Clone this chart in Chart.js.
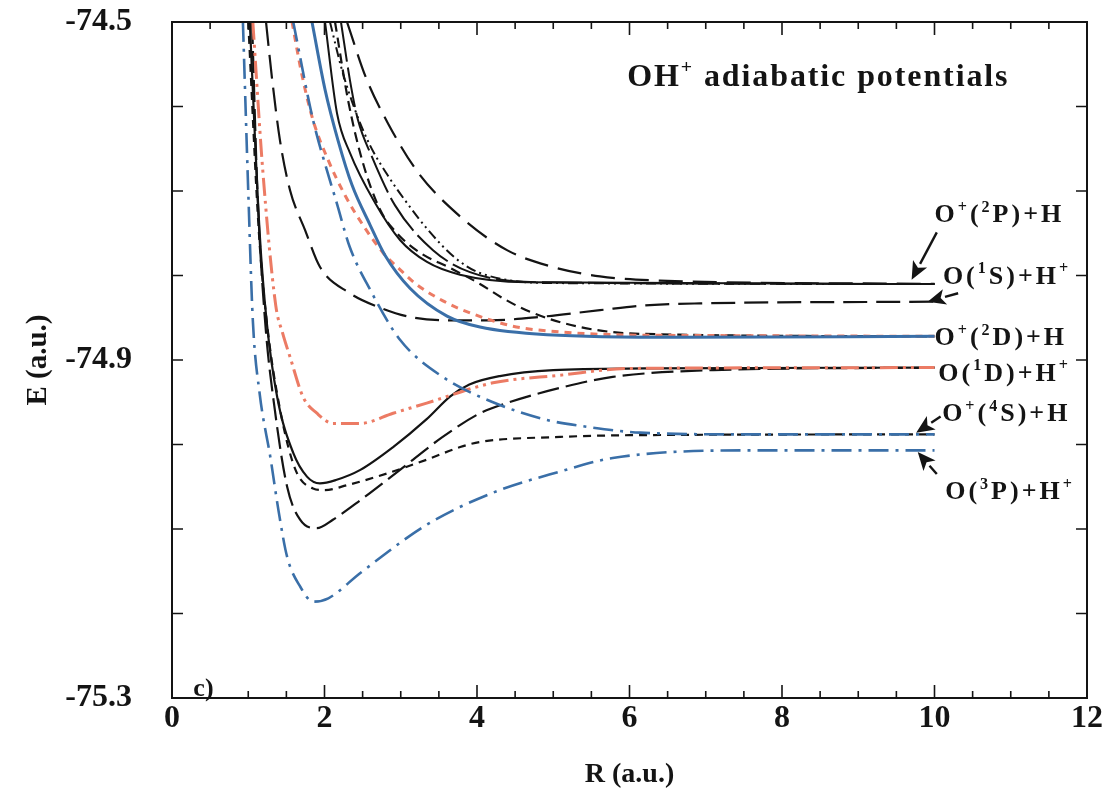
<!DOCTYPE html>
<html>
<head>
<meta charset="utf-8">
<script src="https://cdn.jsdelivr.net/npm/chart.js@4.4.0/dist/chart.umd.min.js"></script>
<style>
  html, body { margin: 0; padding: 0; background: #fff; }
  #wrap { width: 1112px; height: 810px; }
</style>
</head>
<body>
<div id="wrap"><canvas id="pot" width="1112" height="810"></canvas></div>
<script>
// axes
const xTicks = [0, 2, 4, 6, 8, 10, 12];
const yTicks = [-75.3, -74.9, -74.5];

// curves: R (a.u.) and E (a.u.)
// blue dash-dot, deepest well -> O(3P)+H+
const rA = [0.93, 1.0, 1.06, 1.15, 1.29, 1.40, 1.51, 1.68, 1.85, 2.05, 2.47, 3.34, 4.21, 5.09, 5.78, 7.54, 10];
const eA = [-74.50, -74.70, -74.853, -74.94, -75.015, -75.08, -75.133, -75.168, -75.186, -75.182, -75.152, -75.095, -75.057, -75.032, -75.016, -75.007, -75.007];
// black long dash, lower well -> O(1D)+H+
const rB = [1.05, 1.12, 1.22, 1.35, 1.51, 1.68, 1.9, 2.11, 2.47, 2.99, 3.55, 4.04, 4.39, 5.09, 5.78, 7.1, 10];
const eB = [-74.50, -74.70, -74.853, -74.96, -75.050, -75.089, -75.099, -75.089, -75.066, -75.030, -74.991, -74.963, -74.951, -74.933, -74.920, -74.912, -74.909];
// black solid, upper well -> O(1D)+H+
const rC = [1.02, 1.15, 1.24, 1.38, 1.59, 1.77, 1.94, 2.15, 2.47, 2.9, 3.34, 3.65, 3.9, 4.3, 5.0, 6.2, 10];
const eC = [-74.50, -74.75, -74.853, -74.944, -75.010, -75.038, -75.046, -75.042, -75.030, -75.003, -74.970, -74.943, -74.929, -74.919, -74.912, -74.910, -74.909];
// black short dash -> O+(4S)+H
const rD = [1.0, 1.14, 1.25, 1.42, 1.62, 1.85, 2.0, 2.3, 2.69, 3.34, 3.78, 4.04, 5.09, 6.0, 10];
const eD = [-74.50, -74.75, -74.86, -74.96, -75.030, -75.052, -75.054, -75.048, -75.038, -75.018, -75.003, -74.997, -74.991, -74.989, -74.988];
// red dash-dot-dot -> O(1D)+H+
const rE = [1.06, 1.19, 1.36, 1.45, 1.55, 1.72, 1.9, 2.11, 2.47, 2.9, 3.34, 4.21, 5.09, 6.0, 10];
const eE = [-74.50, -74.675, -74.835, -74.868, -74.897, -74.944, -74.963, -74.975, -74.975, -74.963, -74.951, -74.927, -74.918, -74.910, -74.909];
// blue dash-dot, repulsive -> O+(4S)+H
const rF = [1.59, 1.85, 2.07, 2.16, 2.33, 2.6, 2.99, 3.55, 4.21, 4.92, 5.44, 6.14, 7.5, 10];
const eF = [-74.50, -74.616, -74.687, -74.714, -74.766, -74.817, -74.876, -74.920, -74.950, -74.971, -74.979, -74.986, -74.988, -74.988];
// blue solid -> O+(2D)+H
const rG = [1.836, 2.007, 2.177, 2.361, 2.597, 2.793, 3.121, 3.607, 4.039, 4.918, 6.662, 10];
const eG = [-74.50, -74.580, -74.640, -74.693, -74.740, -74.776, -74.815, -74.848, -74.861, -74.870, -74.873, -74.872];
// red short dash -> O+(2D)+H
const rH = [1.574, 1.705, 1.849, 2.046, 2.269, 2.531, 2.767, 2.990, 3.213, 3.554, 3.816, 4.472, 5.128, 5.784, 6.925, 10];
const eH = [-74.50, -74.563, -74.616, -74.663, -74.705, -74.744, -74.773, -74.793, -74.811, -74.830, -74.841, -74.860, -74.867, -74.870, -74.871, -74.872];
// black long dash, shallow dip -> O(1S)+H+
const rK = [1.233, 1.311, 1.416, 1.548, 1.744, 1.941, 2.334, 2.728, 3.121, 3.646, 4.170, 4.826, 5.613, 6.269, 6.925, 10];
const eK = [-74.50, -74.566, -74.640, -74.699, -74.746, -74.790, -74.821, -74.838, -74.849, -74.853, -74.853, -74.849, -74.841, -74.835, -74.833, -74.831];
// black long dash from above -> O+(2P)+H
const rL = [2.295, 2.544, 2.833, 3.226, 3.777, 4.393, 4.957, 5.613, 6.400, 10];
const eL = [-74.50, -74.566, -74.620, -74.678, -74.730, -74.770, -74.789, -74.801, -74.806, -74.810];
// black dashed from above -> O+(2D)+H
const rN = [2.138, 2.308, 2.492, 2.728, 2.951, 3.252, 3.646, 4.039, 4.341, 4.695, 5.351, 6.138, 10];
const eN = [-74.50, -74.592, -74.663, -74.722, -74.750, -74.773, -74.791, -74.810, -74.827, -74.843, -74.861, -74.869, -74.872];
// black solid pair -> O+(2P)+H
const rP1 = [2.007, 2.164, 2.334, 2.662, 2.990, 3.344, 3.777, 4.656, 10];
const eP1 = [-74.50, -74.608, -74.655, -74.714, -74.758, -74.784, -74.799, -74.808, -74.810];
const rP2 = [2.216, 2.334, 2.439, 2.610, 2.925, 3.423, 3.908, 4.826, 10];
const eP2 = [-74.50, -74.569, -74.616, -74.657, -74.717, -74.770, -74.796, -74.808, -74.810];
// black dash-dot-dot -> O+(2P)+H
const rQ = [2.072, 2.230, 2.400, 2.597, 2.833, 3.056, 3.357, 3.711, 4.039, 5.089, 10];
const eQ = [-74.50, -74.557, -74.604, -74.646, -74.682, -74.711, -74.746, -74.779, -74.797, -74.809, -74.810];

// asymptote labels and arrows
const asymLabels = ['O^+(^2P)+H', 'O(^1S)+H^+', 'O^+(^2D)+H', 'O(^1D)+H^+', 'O^+(^4S)+H', 'O(^3P)+H^+'];
const labelR = [10.0, 10.11, 10.0, 10.05, 10.10, 10.14];
const labelE = [-74.726, -74.799, -74.872, -74.914, -74.962, -75.054];
const arrowFromR = [10.03, 10.31, 10.08, 10.03];
const arrowFromE = [-74.749, -74.821, -74.967, -75.035];
const arrowToR = [9.70, 9.91, 9.76, 9.78];
const arrowToE = [-74.805, -74.831, -74.986, -75.009];

const BLUE = '#3a6fa8', RED = '#ec7b64', INK = '#141414';
const SERIF = "'Liberation Serif', 'Times New Roman', serif";

function curve(r, e, color, width, dash) {
  return {
    data: r.map((v, i) => ({ x: v, y: e[i] })),
    borderColor: color,
    borderWidth: width,
    borderDash: dash,
    fill: false,
    pointRadius: 0
  };
}

// colored first so they sit on top
const datasets = [
  curve(rG, eG, BLUE, 3, []),
  curve(rA, eA, BLUE, 2.6, [20, 7, 3, 7]),
  curve(rF, eF, BLUE, 2.6, [20, 7, 3, 7]),
  curve(rH, eH, RED, 3, [7, 6]),
  curve(rE, eE, RED, 3, [18, 5, 3, 5, 3, 5]),
  curve(rC, eC, INK, 2.2, []),
  curve(rB, eB, INK, 2.2, [22, 7]),
  curve(rD, eD, INK, 2.2, [8, 6]),
  curve(rK, eK, INK, 2.2, [24, 9]),
  curve(rL, eL, INK, 2.2, [24, 10]),
  curve(rN, eN, INK, 2.2, [10, 6]),
  curve(rP1, eP1, INK, 2, []),
  curve(rP2, eP2, INK, 2, [40, 6]),
  curve(rQ, eQ, INK, 2, [10, 4, 2, 4, 2, 4])
];

// text with ^ marking a superscript character
function drawRich(ctx, s, x, y, size, spacing) {
  let cx = x;
  for (let i = 0; i < s.length; i++) {
    let ch = s[i], sup = false;
    if (ch === '^') { sup = true; ch = s[++i]; }
    const sz = sup ? size * 0.62 : size;
    ctx.font = `bold ${sz}px ${SERIF}`;
    ctx.fillText(ch, cx, sup ? y - size * 0.4 : y);
    cx += ctx.measureText(ch).width + spacing;
  }
}

const frame = {
  id: 'frame',
  afterDraw(chart) {
    const { ctx, chartArea: a, scales: { x, y } } = chart;
    ctx.save();
    ctx.strokeStyle = INK;
    ctx.lineWidth = 2;
    ctx.strokeRect(a.left, a.top, a.right - a.left, a.bottom - a.top);

    // inward ticks on all four sides
    ctx.lineWidth = 1.6;
    ctx.beginPath();
    for (let k = 0; k <= 24; k++) {
      const px = x.getPixelForValue(k * 0.5);
      const len = k % 4 === 0 ? 13 : 7;
      ctx.moveTo(px, a.bottom); ctx.lineTo(px, a.bottom - len);
      ctx.moveTo(px, a.top); ctx.lineTo(px, a.top + len);
    }
    for (let k = 0; k <= 8; k++) {
      const py = y.getPixelForValue(-75.3 + k * 0.1);
      ctx.moveTo(a.left, py); ctx.lineTo(a.left + 11, py);
      ctx.moveTo(a.right, py); ctx.lineTo(a.right - 11, py);
    }
    ctx.stroke();

    ctx.fillStyle = INK;
    ctx.textBaseline = 'alphabetic';
    ctx.textAlign = 'left';

    // title and panel tag
    drawRich(ctx, 'OH^+ adiabatic potentials', x.getPixelForValue(5.97), y.getPixelForValue(-74.563) + 11, 32, 1.9);
    drawRich(ctx, 'c)', x.getPixelForValue(0.28), y.getPixelForValue(-75.288) + 8, 26, 0);

    // asymptote labels
    asymLabels.forEach((t, i) => {
      drawRich(ctx, t, x.getPixelForValue(labelR[i]), y.getPixelForValue(labelE[i]) + 9, 26, 3);
    });

    // arrows
    ctx.lineWidth = 2.4;
    arrowFromR.forEach((r0, i) => {
      const x0 = x.getPixelForValue(r0), y0 = y.getPixelForValue(arrowFromE[i]);
      const x1 = x.getPixelForValue(arrowToR[i]), y1 = y.getPixelForValue(arrowToE[i]);
      const ang = Math.atan2(y1 - y0, x1 - x0);
      const hl = 18, hw = 8;
      const bx = x1 - hl * Math.cos(ang), by = y1 - hl * Math.sin(ang);
      ctx.beginPath();
      ctx.moveTo(x0, y0); ctx.lineTo(bx, by);
      ctx.stroke();
      ctx.beginPath();
      ctx.moveTo(x1, y1);
      ctx.lineTo(bx + hw * Math.sin(ang), by - hw * Math.cos(ang));
      ctx.lineTo(x1 - hl * 0.75 * Math.cos(ang), y1 - hl * 0.75 * Math.sin(ang));
      ctx.lineTo(bx - hw * Math.sin(ang), by + hw * Math.cos(ang));
      ctx.closePath();
      ctx.fill();
    });
    ctx.restore();
  }
};

new Chart(document.getElementById('pot'), {
  type: 'line',
  data: { datasets },
  options: {
    responsive: false,
    animation: false,
    layout: { padding: { top: 22, right: 25, left: 0, bottom: 0 } },
    plugins: { legend: { display: false }, tooltip: { enabled: false } },
    elements: { line: { cubicInterpolationMode: 'monotone' } },
    scales: {
      x: {
        type: 'linear',
        min: 0, max: 12,
        grid: { display: false },
        border: { display: false },
        afterBuildTicks: s => { s.ticks = xTicks.map(v => ({ value: v })); },
        ticks: { color: INK, padding: -6, font: { family: SERIF, size: 32, weight: 'bold' } },
        title: { display: true, text: 'R (a.u.)', color: INK, padding: { top: 0, bottom: 18 },
                 font: { family: SERIF, size: 28, weight: 'bold' } },
        afterFit: s => { s.height = 112; s.paddingLeft = 0; s.paddingRight = 0; }
      },
      y: {
        type: 'linear',
        min: -75.3, max: -74.5,
        grid: { display: false },
        border: { display: false },
        afterBuildTicks: s => { s.ticks = yTicks.map(v => ({ value: v })); },
        ticks: { color: INK, padding: 32, font: { family: SERIF, size: 32, weight: 'bold' },
                 callback: v => v.toFixed(1) },
        title: { display: true, text: 'E (a.u.)', color: INK, padding: { top: 21, bottom: 0 },
                 font: { family: SERIF, size: 29, weight: 'bold' } },
        afterFit: s => { s.width = 172; s.paddingTop = 0; s.paddingBottom = 0; }
      }
    }
  },
  plugins: [frame]
});
</script>
</body>
</html>
